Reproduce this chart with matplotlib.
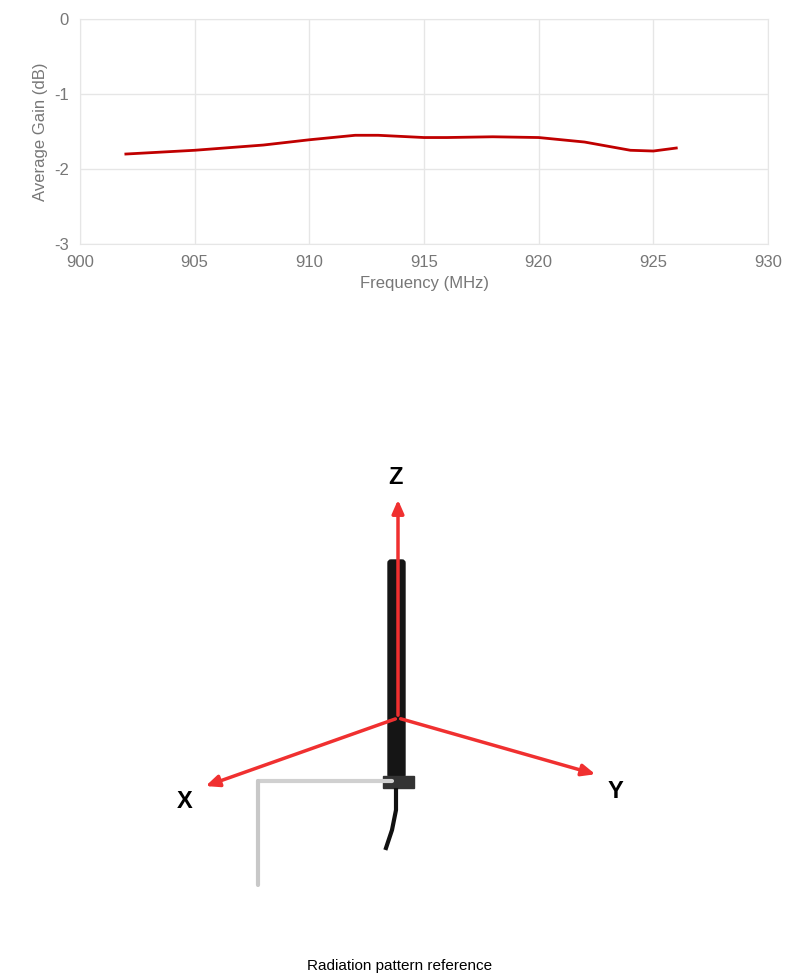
import matplotlib.pyplot as plt
from matplotlib.patches import FancyBboxPatch, Rectangle

plt.rcParams["font.family"] = ["Liberation Sans", "DejaVu Sans"]
plt.rcParams["axes.unicode_minus"] = False

freq = [902, 905, 908, 910, 912, 913, 915, 916, 918, 920, 922, 924, 925, 926]
gain = [-1.80, -1.75, -1.68, -1.61, -1.55, -1.55, -1.58, -1.58, -1.57, -1.58, -1.64, -1.75, -1.76, -1.72]

fig = plt.figure(figsize=(8, 9.75), dpi=100)
ax = fig.add_axes([0.1, 0.7497, 0.86, 0.2308])
ax.plot(freq, gain, color="#c00000", lw=2, solid_joinstyle="round")
ax.set_xlim(900, 930)
ax.set_ylim(-3, 0)
ax.set_xticks(range(900, 931, 5))
ax.set_yticks([0, -1, -2, -3])
ax.grid(color="#e6e6e6", lw=1)
for s in ax.spines.values():
    s.set_color("#e6e6e6")
ax.tick_params(colors="#777777", labelsize=12, length=0, pad=8)
ax.set_xlabel("Frequency (MHz)", color="#777777", fontsize=12)
ax.set_ylabel("Average Gain (dB)", color="#777777", fontsize=12)

# antenna illustration, in pixel coordinates
ill = fig.add_axes([0, 0, 1, 1])
ill.set_xlim(0, 800)
ill.set_ylim(975, 0)
ill.axis("off")
ill.set_zorder(-1)
# bracket
ill.plot([258, 392], [781, 781], color="#d0d0d0", lw=3, solid_capstyle="round")
ill.plot([258, 258], [781, 885], color="#c8c8c8", lw=3, solid_capstyle="round")
# cable
ill.plot([396, 396, 392, 386], [790, 810, 830, 848], color="#111111", lw=3)
# rod and nut
ill.add_patch(FancyBboxPatch((388, 560), 17, 218, boxstyle="round,pad=0,rounding_size=3", color="#151515"))
ill.add_patch(Rectangle((383, 776), 31, 12, color="#333333"))
# axes arrows
ox, oy = 398, 718
for tx, ty in [(398, 497), (203, 787), (598, 775)]:
    ill.annotate("", xy=(tx, ty), xytext=(ox, oy),
                 arrowprops=dict(arrowstyle="-|>,head_length=0.8,head_width=0.35", color="#f03030", lw=2.5))
ill.text(395, 477, "Z", fontsize=17, fontweight="bold", ha="center", va="center")
ill.text(185, 801, "X", fontsize=17, fontweight="bold", ha="center", va="center")
ill.text(615, 791, "Y", fontsize=17, fontweight="bold", ha="center", va="center")
ill.text(400, 966, "Radiation pattern reference", fontsize=11, ha="center", va="center")

fig.savefig("out.png", dpi=100)
